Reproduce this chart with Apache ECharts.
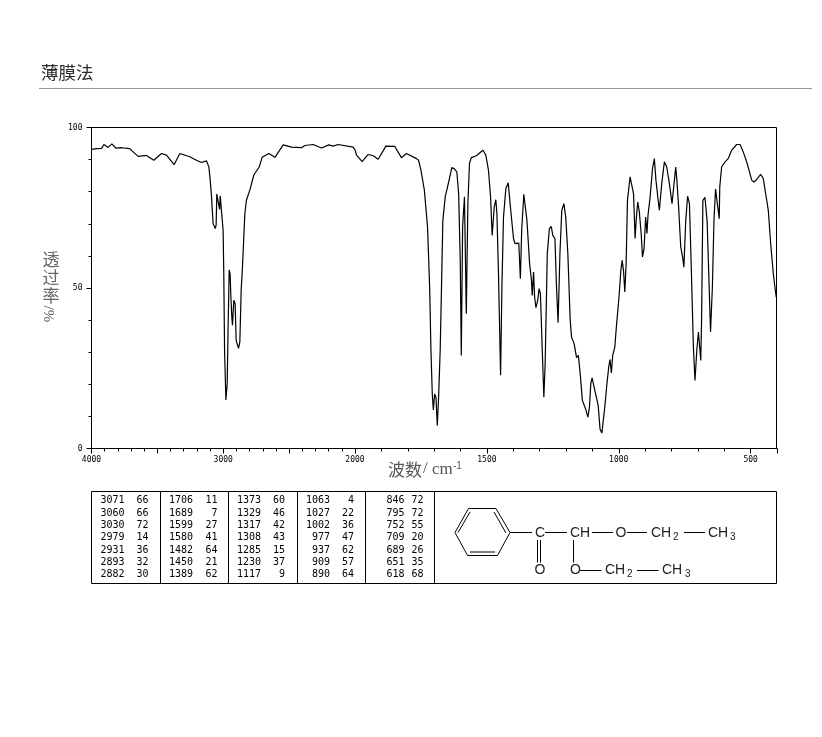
<!DOCTYPE html>
<html><head><meta charset="utf-8">
<style>html,body{margin:0;padding:0;background:#fff}#c{width:822px;height:737px}</style>
<script src="https://cdn.jsdelivr.net/npm/echarts@6/dist/echarts.min.js"></script>
</head><body><div id="c"></div>
<script>
// Spectrum 4000-2000 cm-1 (compressed scale)
const wnHigh = [4000,3962,3924,3906,3874,3846,3815,3772,3709,3684,3646,3583,3527,3469,3431,3373,3330,3254,3203,3165,3127,3109,3099,3089,3082,3077,3061,3054,3049,3036,3028,3023,3016,3001,2996,2990,2980,2970,2963,2955,2948,2942,2935,2930,2920,2910,2902,2884,2874,2864,2854,2844,2836,2824,2798,2768,2727,2705,2654,2608,2545,2482,2406,2381,2318,2254,2199,2166,2128,2014,2000];
const tHigh = [93.2,93.4,93.5,94.7,93.8,94.9,93.6,93.7,93.4,92.4,91,91.3,89.8,91.9,91.4,88.4,91.9,90.9,89.8,89.1,89.6,87.7,83.6,78.4,78.6,70.1,68.5,69.6,79.3,78.9,74.5,78.7,78.4,68,54.5,30.6,15.1,20.2,37.9,55.6,54.5,47.2,41,38.4,46.2,45.2,33.7,31.2,33.2,49.3,56.6,65.9,73.2,77.4,80.5,85.2,87.7,90.7,91.9,90.7,94.6,93.9,93.7,94.4,94.7,93.6,94.6,94.2,94.7,93.9,93];
// Spectrum 2000-400 cm-1 (expanded scale)
const wnLow = [2000,1994,1973,1950,1931,1912,1883,1849,1824,1805,1767,1759,1750,1737,1725,1717,1712,1707,1703,1698,1693,1688,1683,1677,1672,1667,1658,1645,1633,1624,1614,1607,1601,1597,1592,1585,1578,1572,1566,1559,1540,1515,1504,1494,1486,1480,1472,1466,1462,1456,1448,1443,1437,1428,1419,1412,1399,1393,1379,1373,1368,1360,1356,1348,1338,1331,1328,1323,1319,1314,1307,1302,1297,1290,1284,1279,1271,1263,1256,1250,1242,1236,1230,1223,1216,1208,1201,1193,1184,1179,1169,1160,1153,1145,1138,1126,1117,1111,1106,1101,1092,1086,1078,1071,1064,1059,1053,1045,1038,1033,1028,1023,1015,1008,1002.5,999,992,987,982,977,972,967,957,951,944,938,934,928,922,915,910,904,898,893,889,881,872,865,859,852,846,837,827,818,808,798,793,784,780,773,765,758,753,746,739,732,723,717,711,704,698,693,689,686,681,673,665,658,652,645,639,633,626,619,617,610,597,585,572,553,540,528,513,496,487,477,462,452,442,433,424,414,408,403,400];
const tLow = [93,91.4,89.4,91.6,91.2,90.1,94.2,94.1,90.6,91.9,90.3,89.8,86.7,80.5,69,50.3,30.6,17,12,17,16,7.2,16,30.6,50.3,71,78.4,83,87.5,87.2,86.2,79.4,58.6,29,69,78.4,42,76.3,88.8,90.6,91.2,92.9,91.4,86.7,78.4,66.4,75.3,77.5,73.2,54.5,22.8,50.3,72.1,81,82.8,76.3,65.4,63.8,64,52.9,68,79.2,79.2,71,57.6,52.4,47.7,55,47.2,43.9,46.2,49.8,48.2,30.6,16,26.4,60.7,68.5,69.2,66.4,65.4,50.3,39.2,60.7,74.2,76.3,72.1,60.7,39.9,34.7,32.6,28.3,29,22.2,15,12.4,9.8,12.9,20.2,22,18.6,18,13.4,6.1,4.8,5,12.9,20,25.4,27.7,23.5,29,31.6,38.9,38.4,47.2,55.5,58.6,55.5,48.8,57.6,77.3,84.6,84.6,79.4,65.4,71,76.8,73.7,67,59.7,62.3,72.1,67,72.7,78.4,87.2,90.3,83.6,78.4,74.2,82.5,89.3,87.7,82.5,76.3,76.3,87.7,84,75.3,62.8,59.7,56.5,71,78.6,76.3,50.3,31.6,21.2,30.6,36.3,35.8,27.4,39.9,77.3,78.2,71,52.4,36.3,50.3,71,80.8,81,71.6,81.5,87.7,89.3,90.3,92.9,94.7,94.7,92.4,88.8,83.6,83,83.8,85.4,84.1,78.9,74.2,63.8,54.5,50.3,47.2,47];

// Tick values
const xLabelsHigh = [4000,3000,2000];
const xLabelsLow = [1500,1000,500];
const xMajorHigh = [4000,3500,3000,2500,2000];
const xMajorLow = [1500,1000,500,400];
const xMinorHigh = [3900,3800,3700,3600,3400,3300,3200,3100,2900,2800,2700,2600,2400,2300,2200,2100];
const xMinorLow = [1900,1800,1700,1600,1400,1300,1200,1100,900,800,700,600];
const yLabels = [0,50,100];
const yMinor = [10,20,30,40,60,70,80,90];

// Peak table, column by column
const peakWn = [
  [3071,3060,3030,2979,2931,2893,2882],
  [1706,1689,1599,1580,1482,1450,1389],
  [1373,1329,1317,1308,1285,1230,1117],
  [1063,1027,1002,977,937,909,890],
  [846,795,752,709,689,651,618]];
const peakT = [
  [66,66,72,14,36,32,30],
  [11,7,27,41,64,21,62],
  [60,46,42,43,15,37,9],
  [4,22,36,47,62,57,64],
  [72,72,55,20,26,35,68]];

const tickFont = {fontFamily:'DejaVu Sans Mono',fontSize:8,color:'#000',formatter:v=>String(v)};
const black = {color:'#000',width:1};
function xAxes(gridIndex,min,max,major,minor,labels){
  return [
    {type:'value',gridIndex,inverse:true,min,max,position:'bottom',splitLine:{show:false},
     axisLine:{show:true,onZero:false,lineStyle:black},
     axisTick:{show:true,length:5,lineStyle:black,customValues:major},
     axisLabel:Object.assign({show:true,margin:7,customValues:labels,hideOverlap:false,showMinLabel:true,showMaxLabel:true},tickFont)},
    {type:'value',gridIndex,inverse:true,min,max,position:'bottom',splitLine:{show:false},
     axisLine:{show:false,onZero:false},
     axisTick:{show:true,length:3,lineStyle:black,customValues:minor},
     axisLabel:{show:false}}
  ];
}
const graphic = [];
function txt(x,y,text,font,fill,align,extra){
  graphic.push(Object.assign({type:'text',x,y,silent:true,style:{text,font,fill:fill||'#000',textAlign:align||'left',textVerticalAlign:'middle'}},extra||{}));
}
function line(x1,y1,x2,y2,color){
  graphic.push({type:'line',silent:true,shape:{x1,y1,x2,y2},style:{stroke:color||'#000',lineWidth:1}});
}
// Heading and rule
txt(41,72,'薄膜法','17.5px "Noto Sans CJK SC"','#2a2a2a');
line(39,88.5,812,88.5,'#999');
// Plot frame
graphic.push({type:'rect',silent:true,z:-1,shape:{x:91.5,y:127.5,width:685,height:321},style:{fill:'none',stroke:'#000',lineWidth:1}});
// Axis names
const cjkGrey = '17px "Noto Sans CJK SC"';
txt(51,260,'透',cjkGrey,'#666','center');
txt(51,278,'过',cjkGrey,'#666','center');
txt(51,296,'率',cjkGrey,'#666','center');
txt(50,314,'%/','15px "Liberation Serif"','#666','center',{rotation:Math.PI/2});
txt(388,470,'波数','17px "Noto Sans CJK SC"','#555');
txt(423,469,'/','17px "Liberation Serif"','#555');
txt(432,470,'cm','17px "Liberation Serif"','#555');
txt(453,466,'-1','10px "Liberation Sans"','#555');
// Peak table
graphic.push({type:'rect',silent:true,shape:{x:91.5,y:491.5,width:685,height:92},style:{fill:'none',stroke:'#000',lineWidth:1}});
[160.5,228.5,297.5,365.5,434.5].forEach(x=>line(x,491.5,x,583.5));
const wnRight=[124.5,193,261,330,404.5], tRight=[148.5,217.5,285,354,423.5];
const rowY=[500.5,513,525.3,537.7,550,562.3,574.7];
const tableFont='10px "DejaVu Sans Mono"';
peakWn.forEach((col,c)=>col.forEach((v,r)=>{
  txt(wnRight[c],rowY[r],String(v),tableFont,'#000','right');
  txt(tRight[c],rowY[r],String(peakT[c][r]),tableFont,'#000','right');
}));
// Structure: benzene ring
const ring=[[468.5,508.5],[496,508.5],[510,532.5],[497.5,555.5],[467.5,555.5],[455,532.5]];
ring.forEach((p,i)=>{const q=ring[(i+1)%6];line(p[0],p[1],q[0],q[1]);});
line(494,512,506,533);line(470,552,495,552);line(458,532.5,470,512);
// Structure: bonds
line(510,532.5,532,532.5);line(545,532.5,567,532.5);line(592,532.5,613,532.5);line(627,532.5,647,532.5);line(684,532.5,705,532.5);
line(537.5,540,537.5,562.5);line(540.5,540,540.5,562.5);
line(573.5,540,573.5,562.5);
line(580,570.5,601.5,570.5);line(637,570.5,658.5,570.5);
// Structure: atoms
const atom='14px "Liberation Sans"', sub='10px "Liberation Sans"', ink='#222';
txt(540,533,'C',atom,ink,'center');
txt(580,533,'CH',atom,ink,'center');
txt(621,533,'O',atom,ink,'center');
txt(540,570,'O',atom,ink,'center');
txt(575.5,570,'O',atom,ink,'center');
txt(651,533,'CH',atom,ink);txt(673,537,'2',sub,ink);
txt(708,533,'CH',atom,ink);txt(730,537,'3',sub,ink);
txt(605,570,'CH',atom,ink);txt(627,574,'2',sub,ink);
txt(662,570,'CH',atom,ink);txt(685,574,'3',sub,ink);

const chart = echarts.init(document.getElementById('c'),null,{renderer:'canvas'});
chart.setOption({
  animation:false,backgroundColor:'#fff',
  grid:[
    {left:91.5,top:127.5,width:263.5,height:321,containLabel:false},
    {left:355,top:127.5,width:422,height:321,containLabel:false}
  ],
  xAxis:[
    ...xAxes(0,2000,4000,xMajorHigh,xMinorHigh,xLabelsHigh),
    ...xAxes(1,400,2000,xMajorLow,xMinorLow,xLabelsLow)
  ],
  yAxis:[
    {type:'value',gridIndex:0,position:'left',min:0,max:100,splitLine:{show:false},
     axisLine:{show:true,onZero:false,lineStyle:black},
     axisTick:{show:true,length:5,lineStyle:black,customValues:yLabels},
     axisLabel:Object.assign({margin:9,customValues:yLabels},tickFont)},
    {type:'value',gridIndex:0,position:'left',min:0,max:100,splitLine:{show:false},
     axisLine:{show:false,onZero:false},
     axisTick:{show:true,length:3,lineStyle:black,customValues:yMinor},
     axisLabel:{show:false}},
    {type:'value',gridIndex:1,min:0,max:100,show:false}
  ],
  series:[
    {type:'line',xAxisIndex:0,yAxisIndex:0,data:wnHigh.map((w,i)=>[w,tHigh[i]]),showSymbol:false,smooth:false,lineStyle:{color:'#000',width:1.2},clip:true},
    {type:'line',xAxisIndex:2,yAxisIndex:2,data:wnLow.map((w,i)=>[w,tLow[i]]),showSymbol:false,smooth:false,lineStyle:{color:'#000',width:1.2},clip:true}
  ],
  graphic:{elements:graphic}
});
</script></body></html>
